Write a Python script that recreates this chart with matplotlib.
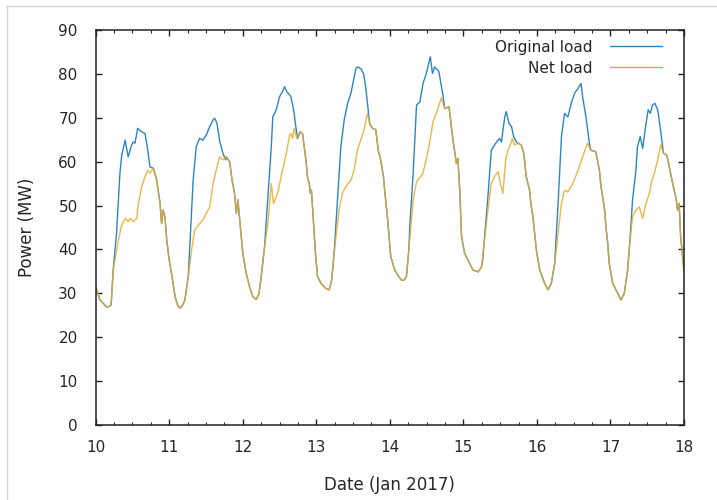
import numpy as np
import matplotlib
matplotlib.use("Agg")
import matplotlib.pyplot as plt
from matplotlib.ticker import MultipleLocator
from matplotlib.lines import Line2D


# [ DATA ]  hours after 10 Jan 2017 00:00, power in MW
#=============================================================================================================================
hours_net = [0.0, 1.4, 3.7, 5.0, 5.3, 5.7, 7.4, 8.3, 9.6, 10.6, 11.2, 12.3, 13.4, 13.9, 15.0, 16.1, 17.0, 17.7, 18.8,
             19.9, 21.0, 21.5, 22.0, 22.6, 23.2, 23.9, 24.9, 25.9, 26.7, 27.5, 28.3, 29.1, 30.2, 31.3, 32.3, 33.9, 35.0,
             36.1, 37.2, 38.3, 39.3, 40.4, 41.5, 42.6, 43.7, 44.5, 45.3, 45.9, 46.4, 47.0, 48.0, 49.1, 50.2,
             51.3, 52.4, 53.3, 54.0, 55.1, 56.2, 57.3, 58.0, 59.4, 60.5, 62.2, 63.3, 63.7, 64.2, 64.8, 65.6,
             66.7, 67.5, 68.6, 69.1, 69.7, 70.0, 70.4, 71.1, 71.8, 72.4, 73.5, 75.1, 76.2, 77.0, 77.8, 78.9,
             79.4, 80.5, 81.6, 83.3, 84.3, 85.4, 86.5, 87.6, 88.7, 89.4, 90.3, 91.4, 92.2, 93.0, 93.9, 94.4,
             95.2, 96.3, 97.6, 98.7, 99.8, 100.6, 101.4, 102.2, 103.6, 104.7, 106.8, 108.5, 110.1, 111.7, 112.8, 113.9,
             115.3, 116.6, 117.7, 118.2, 118.8, 119.4, 120.4, 123.1, 124.8, 125.9, 128.0, 129.1, 130.2, 131.3,
             132.1, 132.9, 133.8, 134.5, 135.3, 136.0, 136.7, 137.8, 138.9, 139.7, 140.5, 141.6, 142.0, 142.7,
             143.8, 144.9, 146.5, 147.6, 148.7, 149.8, 150.9, 152.0, 153.0, 154.1, 155.7, 157.4, 158.9, 160.5,
             161.6, 163.2, 164.4, 164.9, 165.8, 166.2, 166.5, 167.1, 167.6, 168.7, 169.8, 171.4, 172.5, 173.6,
             174.5, 175.2, 176.3, 177.4, 178.5, 179.6, 180.7, 181.4, 182.3, 183.4, 184.4, 185.3, 186.4, 187.2,
             188.3, 189.3, 189.9, 190.4, 190.9, 192.0]
load_net = [31.5, 28.5, 26.8, 27.3, 30.5, 35.3, 42.0, 45.2, 47.1, 46.3, 47.1, 46.3, 47.1, 50.5, 54.3, 56.6, 58.0, 57.4, 58.5,
            55.8, 50.5, 45.9, 49.0, 47.4, 42.0, 38.0, 33.8, 29.2, 27.4, 26.6, 27.2, 28.5, 33.8, 39.9, 44.4, 45.9, 46.7,
            48.2, 49.7, 55.0, 58.0, 61.1, 60.4, 61.1, 60.0, 55.8, 52.8, 48.2, 51.3, 46.7, 39.1, 34.6, 31.5,
            29.2, 28.6, 30.0, 33.8, 40.6, 45.9, 55.0, 50.5, 52.8, 56.6, 61.9, 66.1, 66.4, 65.3, 67.6, 65.3,
            66.8, 66.4, 60.4, 56.6, 55.0, 52.8, 53.5, 45.9, 38.3, 33.8, 32.3, 31.1, 30.8, 33.0, 39.1, 45.9,
            49.0, 52.8, 54.3, 55.8, 58.0, 62.6, 64.9, 67.3, 71.0, 68.7, 67.6, 67.3, 62.6, 60.4, 56.6, 52.8,
            47.4, 38.3, 35.3, 34.0, 33.0, 33.0, 33.8, 40.0, 51.3, 55.4, 57.3, 62.6, 69.1, 72.1, 74.6, 72.1,
            72.5, 64.9, 59.6, 60.8, 53.5, 42.9, 39.1, 35.3, 34.9, 36.0, 49.0, 55.0, 56.6, 57.7,
            55.0, 52.8, 60.4, 62.6, 63.8, 65.3, 63.8, 64.2, 63.8, 61.9, 56.6, 53.5, 50.5, 47.4,
            39.9, 35.3, 32.3, 30.8, 32.3, 36.8, 43.7, 50.5, 53.5, 53.1, 55.0, 58.0, 61.1, 64.2,
            62.6, 62.3, 58.0, 54.3, 50.5, 48.2, 45.2, 41.4, 36.8, 32.3, 30.8, 28.5, 30.0, 35.3,
            42.9, 47.4, 49.0, 49.7, 47.1, 50.5, 52.8, 55.4, 57.3, 60.4, 63.8, 61.9, 61.5, 58.8,
            55.0, 52.0, 49.0, 50.5, 42.9, 35.0]

hours_orig = [0.0, 1.4, 3.7, 5.0, 5.3, 5.7, 6.8, 7.9, 8.5, 9.6, 10.6, 11.7, 12.3, 12.8, 13.7, 15.0, 16.1, 17.0, 17.7,
              18.8, 19.9, 21.0, 21.5, 22.0, 22.6, 23.2, 23.9, 24.9, 25.9, 26.7, 27.5, 28.3, 29.1, 30.2,
              30.8, 31.8, 32.8, 33.9, 35.0, 36.1, 37.2, 38.3, 38.8, 39.6, 40.4, 41.5, 42.4,
              42.6, 43.7, 44.5, 45.3, 45.9, 46.4, 47.0, 48.0, 49.1, 50.2, 51.3, 52.4, 53.3, 54.0, 55.1,
              56.2, 57.3, 57.8, 58.4, 58.9, 60.0, 60.9, 61.6, 62.4, 63.3, 63.7, 64.6, 65.3, 65.9,
              66.7, 67.5, 68.6, 69.1, 69.7, 70.0, 70.4, 71.1, 71.8, 72.4, 73.5, 75.1, 76.2, 77.0, 77.8,
              78.9, 80.0, 81.1, 82.2, 83.3, 83.8, 84.9, 85.4, 86.5, 87.4, 88.1, 88.9,
              89.4, 90.3, 91.4, 92.2, 93.0, 93.9, 94.4, 95.2, 96.3, 97.6, 98.7, 99.8, 100.6, 101.4, 102.2,
              102.5, 103.6, 104.7, 105.8, 106.8, 107.9, 109.2, 109.9, 110.6, 112.0, 113.4,
              113.9, 115.3, 116.6, 117.7, 118.2, 118.8, 119.4, 120.4, 123.1, 124.8, 125.9,
              126.3, 128.0, 129.1, 130.8, 131.8, 132.4, 133.5, 134.0, 134.9, 135.7, 136.4, 137.3,
              137.8, 138.9, 139.7, 140.5, 141.6, 142.0, 142.7, 143.8, 144.9, 146.5, 147.6, 148.7, 149.8,
              150.9, 152.0, 153.0, 154.1, 155.2, 156.3, 157.4, 158.4, 158.9, 160.0, 161.1,
              161.6, 163.2, 164.4, 164.9, 165.8, 166.2, 166.5, 167.1, 167.6, 168.7, 169.8, 171.4, 172.5, 173.6, 174.5,
              175.2, 176.3, 176.8, 177.7, 178.5, 179.6, 180.3, 181.0, 181.7, 182.5, 183.4, 184.2, 185.0,
              185.3, 186.4, 187.2, 188.3, 189.3, 189.9, 190.4, 190.9, 192.0]
load_orig = [31.5, 28.5, 26.8, 27.3, 30.5, 35.3, 43.7, 57.4, 61.5, 64.9, 61.1, 63.8, 64.5, 64.2, 67.6, 66.8, 66.4, 62.6, 58.8,
             58.5, 55.8, 50.5, 45.9, 49.0, 47.4, 42.0, 38.0, 33.8, 29.2, 27.4, 26.6, 27.2, 28.5, 33.8,
             42.0, 55.8, 63.4, 65.3, 64.9, 66.1, 68.0, 69.5, 69.9, 68.7, 64.9, 61.9, 60.4,
             61.1, 60.0, 55.8, 52.8, 48.2, 51.3, 46.7, 39.1, 34.6, 31.5, 29.2, 28.6, 30.0, 33.8, 40.6,
             52.0, 63.4, 70.3, 71.0, 71.8, 74.8, 75.9, 77.1, 75.9, 75.2, 74.8, 71.8, 68.0, 65.3,
             66.8, 66.4, 60.4, 56.6, 55.0, 52.8, 53.5, 45.9, 38.3, 33.8, 32.3, 31.1, 30.8, 33.0, 39.1,
             51.3, 63.4, 69.5, 73.3, 75.6, 77.4, 81.2, 81.6, 81.2, 80.1, 77.1, 71.8,
             68.7, 67.6, 67.3, 62.6, 60.4, 56.6, 52.8, 47.4, 38.3, 35.3, 34.0, 33.0, 33.0, 33.8, 40.0,
             45.2, 57.3, 72.9, 73.6, 77.8, 80.1, 83.9, 80.1, 81.6, 80.5, 74.8,
             72.1, 72.5, 64.9, 59.6, 60.8, 53.5, 42.9, 39.1, 35.3, 34.9, 36.0,
             37.6, 52.0, 62.6, 64.5, 65.3, 64.5, 70.2, 71.4, 68.7, 68.0, 65.7, 64.5,
             64.2, 63.8, 61.9, 56.6, 53.5, 50.5, 47.4, 39.9, 35.3, 32.3, 30.8, 32.3, 36.8,
             50.5, 65.7, 71.0, 70.2, 73.3, 75.6, 76.7, 77.8, 74.8, 70.2, 64.2,
             62.6, 62.3, 58.0, 54.3, 50.5, 48.2, 45.2, 41.4, 36.8, 32.3, 30.8, 28.5, 30.0, 35.3, 43.5,
             51.3, 58.0, 63.4, 65.7, 63.0, 68.7, 71.8, 71.0, 72.9, 73.3, 71.8, 68.0, 63.4,
             61.9, 61.5, 58.8, 55.0, 52.0, 49.0, 50.5, 42.9, 35.0]

day_ticks = [10, 11, 12, 13, 14, 15, 16, 17, 18]
power_ticks = [0, 10, 20, 30, 40, 50, 60, 70, 80, 90]

days_orig = 10 + np.array(hours_orig) / 24.0
days_net = 10 + np.array(hours_net) / 24.0


# [ PLOT ]
#=============================================================================================================================
plt.rcParams["font.family"] = ["DejaVu Sans"]
text_col = "#262626"
blue = "#2b86c4"
orange = "#eaa92b"

fig = plt.figure(figsize=(7.17, 5.0), dpi=100)
ax = fig.add_axes([0.1335, 0.15, 0.8205, 0.79])

ax.plot(days_orig, load_orig, color=blue, lw=1.0, label="Original load")
ax.plot(days_net, load_net, color=orange, lw=1.0, alpha=0.85, label="Net load")

ax.set_xlim(10, 18)
ax.set_ylim(0, 90)
ax.set_xticks(day_ticks)
ax.set_xticklabels([str(d) for d in day_ticks])
ax.set_yticks(power_ticks)
ax.xaxis.set_minor_locator(MultipleLocator(0.25))

for s in ax.spines.values():
    s.set_linewidth(1.1)
    s.set_color("#222222")

ax.tick_params(which="both", direction="in", top=True, right=True, colors="#222222",
               labelcolor=text_col, labelsize=11)
ax.tick_params(which="major", length=4.5, width=1.0)
ax.tick_params(which="minor", length=2.5, width=0.8)
ax.tick_params(axis="y", pad=13)
ax.tick_params(axis="x", pad=11)

ax.set_xlabel("Date (Jan 2017)", fontsize=12, color=text_col, labelpad=15)
ax.set_ylabel("Power (MW)", fontsize=12, color=text_col, labelpad=16)

handles = [Line2D([], [], color=blue, lw=1.0), Line2D([], [], color=orange, lw=1.0)]
ax.legend(handles, ["Original load", "Net load"], loc="upper right", frameon=False,
          markerfirst=False, fontsize=11, handlelength=3.4, handletextpad=1.1,
          labelspacing=0.4, borderaxespad=0.5, borderpad=0.0,
          bbox_to_anchor=(0.975, 0.995), labelcolor=text_col)

# light frame around the picture
fig.add_artist(Line2D([7 / 717, 7 / 717], [0, 1 - 6 / 500], transform=fig.transFigure,
                      color="#d4d4d4", lw=1.0))
fig.add_artist(Line2D([7 / 717, 1], [1 - 6 / 500, 1 - 6 / 500], transform=fig.transFigure,
                      color="#d4d4d4", lw=1.0))

fig.savefig("out.png", dpi=100)
